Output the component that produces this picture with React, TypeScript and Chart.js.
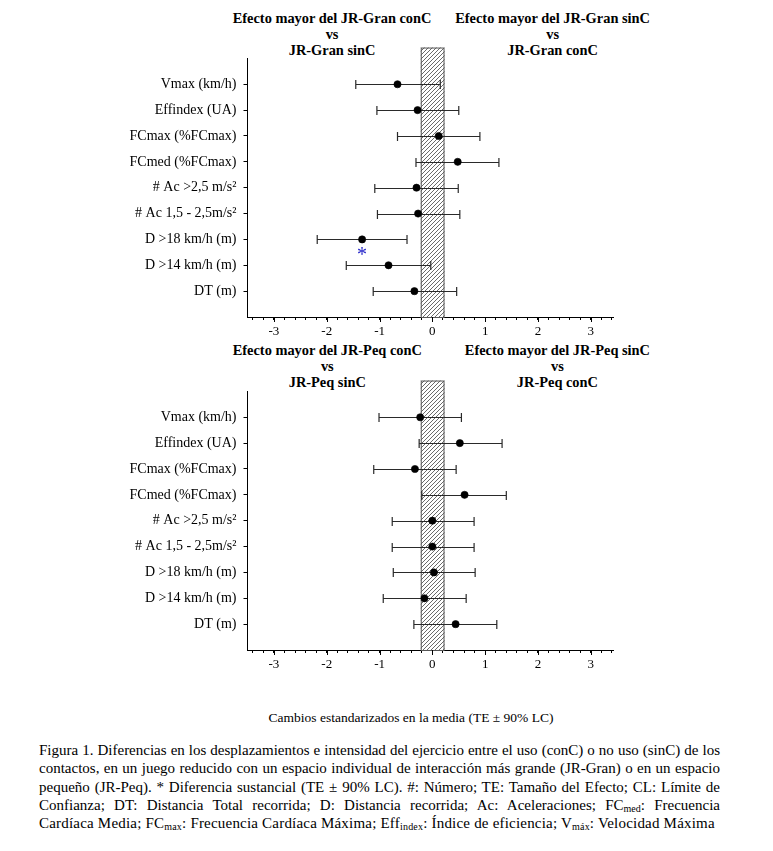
import React, { useEffect, useRef } from "react";
import { Chart, registerables } from "chart.js";

Chart.register(...registerables);

const rowLabels = [
  "Vmax (km/h)",
  "Effindex (UA)",
  "FCmax (%FCmax)",
  "FCmed (%FCmax)",
  "# Ac >2,5 m/s²",
  "# Ac 1,5 - 2,5m/s²",
  "D >18 km/h (m)",
  "D >14 km/h (m)",
  "DT (m)",
];

const topEffect = [-0.66, -0.28, 0.12, 0.48, -0.3, -0.27, -1.33, -0.83, -0.34];
const topLower = [-1.45, -1.05, -0.66, -0.31, -1.09, -1.04, -2.18, -1.63, -1.12];
const topUpper = [0.15, 0.5, 0.9, 1.26, 0.49, 0.52, -0.48, -0.03, 0.46];
const topSignificant = [false, false, false, false, false, false, true, false, false];

const bottomEffect = [-0.23, 0.52, -0.33, 0.61, 0.0, 0.0, 0.03, -0.15, 0.44];
const bottomLower = [-1.01, -0.25, -1.11, -0.2, -0.76, -0.76, -0.74, -0.93, -0.35];
const bottomUpper = [0.55, 1.32, 0.45, 1.4, 0.79, 0.79, 0.81, 0.64, 1.22];
const bottomSignificant = [false, false, false, false, false, false, false, false, false];

const xTickLabels = [-3, -2, -1, 0, 1, 2, 3];
const trivialRange = [-0.22, 0.23];
const xMin = -3.5;
const xMax = 3.42;

const SERIF = "serif";

const minorTickValues: number[] = [];
for (let k = -17; k <= 17; k++) minorTickValues.push(Math.round(k * 2) / 10);

function makePattern(): CanvasPattern | string {
  const pc = document.createElement("canvas");
  pc.width = 4;
  pc.height = 4;
  const p = pc.getContext("2d");
  if (!p) return "#ccc";
  p.fillStyle = "#fff";
  p.fillRect(0, 0, 4, 4);
  p.strokeStyle = "#444";
  p.lineWidth = 0.8;
  p.beginPath();
  p.moveTo(0, 4);
  p.lineTo(4, 0);
  p.moveTo(-1, 1);
  p.lineTo(1, -1);
  p.moveTo(3, 5);
  p.lineTo(5, 3);
  p.stroke();
  const pat = p.createPattern(pc, "repeat");
  return pat || "#ccc";
}

function makeChart(
  canvas: HTMLCanvasElement,
  effect: number[],
  lower: number[],
  upper: number[],
  significant: boolean[]
) {
  const bandPlugin = {
    id: "band",
    beforeDatasetsDraw(chart: any) {
      const { ctx, scales, chartArea } = chart;
      const x0 = scales.x.getPixelForValue(trivialRange[0]);
      const x1 = scales.x.getPixelForValue(trivialRange[1]);
      const yTop = scales.y.getPixelForValue(-0.42);
      const yBot = chartArea.bottom;
      ctx.save();
      ctx.fillStyle = makePattern();
      ctx.fillRect(x0, yTop, x1 - x0, yBot - yTop);
      ctx.strokeStyle = "#555";
      ctx.lineWidth = 1;
      ctx.strokeRect(x0 + 0.5, yTop + 0.5, x1 - x0 - 1, yBot - yTop);
      ctx.restore();
      ctx.save();
      ctx.strokeStyle = "#2a2a2a";
      ctx.lineWidth = 1.2;
      for (let i = 0; i < effect.length; i++) {
        const y = Math.round(scales.y.getPixelForValue(i + 1)) + 0.5;
        const xl = scales.x.getPixelForValue(lower[i]);
        const xh = scales.x.getPixelForValue(upper[i]);
        ctx.beginPath();
        ctx.moveTo(xl, y);
        ctx.lineTo(xh, y);
        ctx.moveTo(xl, y - 4.5);
        ctx.lineTo(xl, y + 4.5);
        ctx.moveTo(xh, y - 4.5);
        ctx.lineTo(xh, y + 4.5);
        ctx.stroke();
      }
      ctx.restore();
    },
    afterDraw(chart: any) {
      const { ctx, scales, chartArea } = chart;
      ctx.save();
      ctx.strokeStyle = "#000";
      ctx.lineWidth = 1;
      for (const v of xTickLabels) {
        const x = Math.round(scales.x.getPixelForValue(v)) + 0.5;
        ctx.beginPath();
        ctx.moveTo(x, chartArea.bottom);
        ctx.lineTo(x, chartArea.bottom + 5);
        ctx.stroke();
      }
      ctx.fillStyle = "#2323c8";
      ctx.font = `20px ${SERIF}`;
      ctx.textAlign = "center";
      ctx.textBaseline = "middle";
      for (let i = 0; i < significant.length; i++) {
        if (!significant[i]) continue;
        const x = scales.x.getPixelForValue(effect[i]);
        const y = scales.y.getPixelForValue(i + 1.5);
        ctx.fillText("*", x, y + 3);
      }
      ctx.restore();
    },
  };

  return new Chart(canvas, {
    type: "scatter",
    data: {
      datasets: [
        {
          data: effect.map((v, i) => ({ x: v, y: i + 1 })),
          pointRadius: 3.6,
          pointBackgroundColor: "#000",
          pointBorderColor: "#000",
          pointBorderWidth: 0.6,
        },
      ],
    },
    options: {
      animation: false,
      responsive: false,
      events: [],
      plugins: { legend: { display: false }, tooltip: { enabled: false } },
      layout: { padding: { left: 0, right: 160, top: 18.4, bottom: 3 } },
      scales: {
        x: {
          type: "linear",
          min: xMin,
          max: xMax,
          afterBuildTicks: (s: any) => {
            s.ticks = minorTickValues.map((v) => ({ value: v }));
          },
          afterFit: (s: any) => {
            s.height = 20;
          },
          ticks: {
            autoSkip: false,
            maxRotation: 0,
            padding: 4,
            color: "#000",
            font: { family: SERIF, size: 13 },
            callback: (v: any) => {
              const r = Math.round(Number(v) * 10) / 10;
              return xTickLabels.includes(r) ? String(r) : "";
            },
          },
          grid: { drawOnChartArea: false, drawTicks: true, tickLength: 3, tickColor: "#000" },
          border: { display: true, color: "#000", width: 1 },
        },
        y: {
          type: "linear",
          min: 0,
          max: 10,
          reverse: true,
          afterBuildTicks: (s: any) => {
            s.ticks = rowLabels.map((_, i) => ({ value: i + 1 }));
          },
          afterFit: (s: any) => {
            s.width = 247.5;
          },
          ticks: {
            autoSkip: false,
            padding: 7,
            color: "#000",
            font: { family: SERIF, size: 14 },
            callback: (v: any) => rowLabels[Math.round(Number(v)) - 1] ?? "",
          },
          grid: { drawOnChartArea: false, drawTicks: true, tickLength: 4, tickColor: "#000" },
          border: { display: true, color: "#000", width: 1 },
        },
      },
    },
    plugins: [bandPlugin],
  } as any);
}

function Panel(props: {
  top: number;
  effect: number[];
  lower: number[];
  upper: number[];
  significant: boolean[];
}) {
  const ref = useRef<HTMLCanvasElement | null>(null);
  useEffect(() => {
    if (!ref.current) return;
    const c = makeChart(ref.current, props.effect, props.lower, props.upper, props.significant);
    return () => c.destroy();
  }, []);
  return (
    <canvas
      ref={ref}
      width={773}
      height={300}
      style={{ position: "absolute", left: 0, top: props.top, width: 773, height: 300 }}
    />
  );
}

const headerStyle: React.CSSProperties = {
  position: "absolute",
  fontFamily: SERIF,
  fontWeight: "bold",
  fontSize: 14.4,
  lineHeight: "16px",
  textAlign: "center",
  whiteSpace: "nowrap",
  color: "#000",
};

const lineStyle: React.CSSProperties = {
  textAlign: "justify",
  textAlignLast: "justify" as any,
  whiteSpace: "nowrap",
};

const subStyle: React.CSSProperties = { fontSize: 10, verticalAlign: "-2px", lineHeight: 0 };

export default function App() {
  return (
    <div
      style={{
        position: "absolute",
        left: 0,
        top: 0,
        width: 773,
        height: 851,
        background: "#fff",
        fontFamily: SERIF,
        color: "#000",
        overflow: "hidden",
      }}
    >
      <div style={{ ...headerStyle, left: 232.7, top: 10 }}>
        Efecto mayor del JR-Gran conC
        <br />
        vs
        <br />
        JR-Gran sinC
      </div>
      <div style={{ ...headerStyle, right: 123, top: 10 }}>
        Efecto mayor del JR-Gran sinC
        <br />
        vs
        <br />
        JR-Gran conC
      </div>
      <Panel top={40} effect={topEffect} lower={topLower} upper={topUpper} significant={topSignificant} />

      <div style={{ ...headerStyle, left: 232.7, top: 341.7 }}>
        Efecto mayor del JR-Peq conC
        <br />
        vs
        <br />
        JR-Peq sinC
      </div>
      <div style={{ ...headerStyle, right: 123, top: 341.7 }}>
        Efecto mayor del JR-Peq sinC
        <br />
        vs
        <br />
        JR-Peq conC
      </div>
      <Panel
        top={373}
        effect={bottomEffect}
        lower={bottomLower}
        upper={bottomUpper}
        significant={bottomSignificant}
      />

      <div
        style={{
          position: "absolute",
          left: 211,
          width: 400,
          top: 710,
          fontSize: 13.5,
          lineHeight: "16px",
          textAlign: "center",
          whiteSpace: "nowrap",
        }}
      >
        Cambios estandarizados en la media (TE ± 90% LC)
      </div>

      <div
        style={{
          position: "absolute",
          left: 39,
          width: 681,
          top: 741,
          fontSize: 15,
          lineHeight: "18.3px",
        }}
      >
        <div style={lineStyle}>
          Figura 1. Diferencias en los desplazamientos e intensidad del ejercicio entre el uso (conC) o no uso (sinC) de los
        </div>
        <div style={lineStyle}>
          contactos, en un juego reducido con un espacio individual de interacción más grande (JR-Gran) o en un espacio
        </div>
        <div style={lineStyle}>
          pequeño (JR-Peq). * Diferencia sustancial (TE ± 90% LC). #: Número; TE: Tamaño del Efecto; CL: Límite de
        </div>
        <div style={lineStyle}>
          Confianza; DT: Distancia Total recorrida; D: Distancia recorrida; Ac: Aceleraciones; FC
          <sub style={subStyle}>med</sub>: Frecuencia
        </div>
        <div style={{ whiteSpace: "nowrap", letterSpacing: "0.2px" }}>
          Cardíaca Media; FC<sub style={subStyle}>max</sub>: Frecuencia Cardíaca Máxima; Eff
          <sub style={subStyle}>index</sub>: Índice de eficiencia; V<sub style={subStyle}>máx</sub>: Velocidad
          Máxima
        </div>
      </div>
    </div>
  );
}
